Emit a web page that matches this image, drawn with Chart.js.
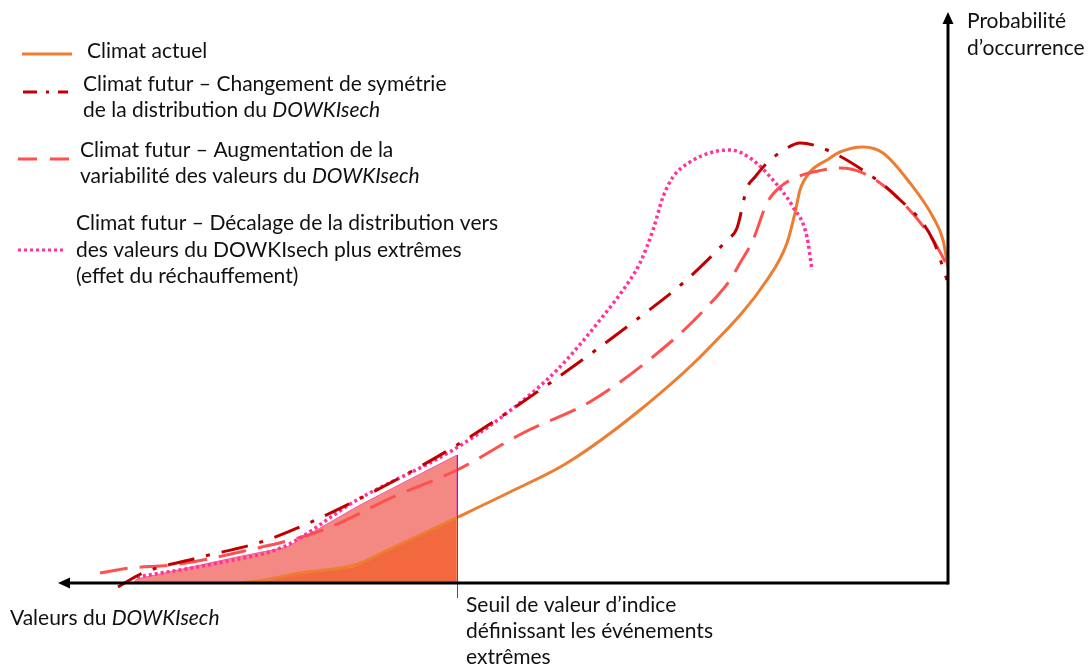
<!DOCTYPE html>
<html><head><meta charset="utf-8">
<script src="https://cdn.jsdelivr.net/npm/chart.js@4/dist/chart.umd.min.js"></script>
<style>html,body{margin:0;padding:0;background:#fff;overflow:hidden}canvas{display:block}</style>
</head><body>
<canvas id="c" width="1089" height="665"></canvas>
<script>
// Climat actuel (solid orange)
const actuelX = [19.2,21.7,25.2,30.7,34.2,37.2,41.0,46.2,51.9,59.2,65.9,71.9,73.9,74.7,75.2,76.2,77.9,79.2,81.5,83.5,86.2,88.5,89.5,90.0];
const actuelY = [0,0.3,1.0,1.8,3.4,4.8,6.6,9.1,12.0,17.3,23.3,30.3,34.0,37.0,39.3,41.1,42.3,43.1,43.6,43.0,40.0,36.6,34.3,31.6];
// Climat futur – changement de symétrie (dash-dot dark red)
const symX = [7.0,9.5,14.9,21.9,30.9,40.9,50.2,59.2,63.5,67.9,68.9,69.9,70.7,71.9,73.9,75.2,77.9,81.9,84.9,88.5,89.9];
const symY = [-0.4,1.0,2.5,4.3,8.3,13.8,20.0,26.6,30.0,34.3,35.5,39.5,40.6,42.0,43.5,44.0,43.3,41.0,38.6,34.3,30.3];
// Climat futur – augmentation de la variabilité (dashed light red)
const varX = [5.2,8.2,12.5,19.2,27.5,34.5,40.9,47.5,54.5,62.5,65.9,68.2,69.2,70.5,71.9,73.2,74.9,76.5,79.2,81.5,84.9,88.5,90.0];
const varY = [1.0,1.5,1.8,3.1,5.3,8.6,11.3,15.0,18.3,24.3,27.6,30.3,32.0,34.3,38.0,39.6,40.6,41.1,41.5,41.0,38.6,34.3,31.6];
// Climat futur – décalage de la distribution (dotted pink)
const shiftX = [8.9,17.5,23.5,30.9,40.5,45.9,50.9,55.2,58.2,59.2,60.5,61.5,62.5,64.2,66.5,68.2,70.2,72.5,74.5,75.9,76.4];
const shiftY = [0.6,2.1,3.6,8.3,13.3,17.0,21.3,26.3,30.3,32.0,35.3,38.6,40.6,42.1,43.1,43.3,42.5,40.3,37.6,34.6,31.3];
// Shaded extreme-event areas (beyond threshold)
const fillShiftX = [8.5,8.9,18.9,23.9,31.2,40.9,40.9];
const fillShiftY = [0,0.4,2.6,3.6,7.8,12.8,0];
const fillActuelX = [20.2,24.5,30.5,34.5,40.9,40.9];
const fillActuelY = [0,0.9,1.6,3.6,6.5,0];
const threshold = 40.9;
const xAxisTip = 1.0, xAxisEnd = 90, yAxisTop = 57;

const legendItems = [
  {style:'solid', color:'#ED7D31', lines:[[{t:'Climat actuel'}]]},
  {style:'dashdot', color:'#C00000', lines:[[{t:'Climat futur – Changement de symétrie'}],[{t:'de la distribution du '},{t:'DOWKIsech',i:1}]]},
  {style:'dash', color:'#FF5050', lines:[[{t:'Climat futur – Augmentation de la'}],[{t:'variabilité des valeurs du '},{t:'DOWKIsech',i:1}]]},
  {style:'dot', color:'#FF3399', lines:[[{t:'Climat futur – Décalage de la distribution vers'}],[{t:'des valeurs du DOWKIsech plus extrêmes'}],[{t:'(effet du réchauffement)'}]]}
];
const xAxisLabel = [{t:'Valeurs du '},{t:'DOWKIsech',i:1}];
const yAxisLabel = ['Probabilité','d’occurrence'];
const thresholdLabel = ['Seuil de valeur d’indice','définissant les événements','extrêmes'];

const pts = (xs, ys) => xs.map((v,i)=>({x:v,y:ys[i]}));
const DASH = {solid:[], dashdot:[27,12,4,12], dash:[28,12], dot:[3,3]};
const LEGEND_DASH = {solid:[], dashdot:[14,9,3,9], dash:[19,13], dot:[3,3]};
const FONT = 'Lato';
const FS = 21;

function drawRuns(ctx, runs, x, y, size){
  let cx = x;
  for (const r of runs){
    ctx.font = (r.i ? 'italic ' : '') + size + 'px ' + FONT;
    ctx.fillText(r.t, cx, y);
    cx += ctx.measureText(r.t).width;
  }
}

const overlay = {
  id:'overlay',
  afterDatasetsDraw(chart){
    const {ctx, scales:{x, y}} = chart;
    ctx.save();
    // threshold tick
    const tx = x.getPixelForValue(threshold);
    ctx.strokeStyle = '#555'; ctx.lineWidth = 1;
    ctx.beginPath(); ctx.moveTo(tx + 0.5, y.getPixelForValue(12.8)); ctx.lineTo(tx + 0.5, y.getPixelForValue(-1.5)); ctx.stroke();
    // x axis arrow (pointing left)
    const y0 = y.getPixelForValue(0);
    const xr = x.getPixelForValue(xAxisEnd), xl = x.getPixelForValue(xAxisTip);
    ctx.strokeStyle = '#000'; ctx.fillStyle = '#000'; ctx.lineWidth = 3;
    ctx.beginPath(); ctx.moveTo(xr, y0); ctx.lineTo(xl + 8, y0); ctx.stroke();
    ctx.beginPath(); ctx.moveTo(xl, y0); ctx.lineTo(xl + 12, y0 - 5.5); ctx.lineTo(xl + 12, y0 + 5.5); ctx.closePath(); ctx.fill();
    // y axis arrow (pointing up)
    const yt = y.getPixelForValue(yAxisTop) - 1;
    ctx.beginPath(); ctx.moveTo(xr, y0 + 1.5); ctx.lineTo(xr, yt + 8); ctx.stroke();
    ctx.beginPath(); ctx.moveTo(xr, yt); ctx.lineTo(xr - 5.5, yt + 12); ctx.lineTo(xr + 5.5, yt + 12); ctx.closePath(); ctx.fill();

    // legend
    const samples = [{x1:22,x2:72,y:54},{x1:23,x2:68,y:92},{x1:18,x2:69,y:159},{x1:18,x2:64,y:250}];
    const textPos = [{x:87,y:58,lh:26},{x:83,y:91,lh:26},{x:80,y:157,lh:26},{x:76,y:230,lh:26.5}];
    legendItems.forEach((it, i) => {
      const s = samples[i];
      ctx.strokeStyle = it.color; ctx.lineWidth = 3; ctx.lineCap = 'butt';
      ctx.setLineDash(LEGEND_DASH[it.style]);
      ctx.beginPath(); ctx.moveTo(s.x1, s.y); ctx.lineTo(s.x2, s.y); ctx.stroke();
      ctx.setLineDash([]);
      ctx.fillStyle = '#111'; ctx.textBaseline = 'alphabetic';
      it.lines.forEach((ln, j) => drawRuns(ctx, ln, textPos[i].x, textPos[i].y + j * textPos[i].lh, FS));
    });
    // axis labels
    ctx.fillStyle = '#111';
    drawRuns(ctx, xAxisLabel, 10, 625, FS);
    ctx.font = FS + 'px ' + FONT;
    yAxisLabel.forEach((t, j) => ctx.fillText(t, 967, 28 + j * 27));
    thresholdLabel.forEach((t, j) => ctx.fillText(t, 466, 612 + j * 26));
    ctx.restore();
  }
};

new Chart(document.getElementById('c'), {
  type: 'scatter',
  data: {
    datasets: [
      {label:'fillShift', data: pts(fillShiftX, fillShiftY), showLine:true, tension:0, fill:'origin',
       backgroundColor:'#F48882', borderColor:'#F25AA8', borderWidth:1, order:6},
      {label:'fillActuel', data: pts(fillActuelX, fillActuelY), showLine:true, tension:0, fill:'origin',
       backgroundColor:'#F2683F', borderColor:'#F79A72', borderWidth:1.2, order:5},
      {label:'Climat actuel', data: pts(actuelX, actuelY), showLine:true, cubicInterpolationMode:'monotone',
       borderColor:'#ED7D31', borderWidth:3, fill:false, order:4},
      {label:'Variabilité', data: pts(varX, varY), showLine:true, cubicInterpolationMode:'monotone',
       borderColor:'#FF5050', borderWidth:3, borderDash:DASH.dash, fill:false, order:3, clip:false},
      {label:'Décalage', data: pts(shiftX, shiftY), showLine:true, cubicInterpolationMode:'monotone',
       borderColor:'#FF3399', borderWidth:3.5, borderDash:DASH.dot, fill:false, order:2},
      {label:'Symétrie', data: pts(symX, symY), showLine:true, cubicInterpolationMode:'monotone',
       borderColor:'#C00000', borderWidth:3, borderDash:DASH.dashdot, fill:false, order:1, clip:false}
    ]
  },
  options: {
    responsive:false, animation:false, events:[],
    layout:{padding:{left:48, right:141, top:13, bottom:82}},
    elements:{point:{radius:0, hoverRadius:0}, line:{borderCapStyle:'butt'}},
    scales:{
      x:{type:'linear', min:0, max:90, display:false},
      y:{type:'linear', min:0, max:57, display:false}
    },
    plugins:{legend:{display:false}, tooltip:{enabled:false}}
  },
  plugins:[overlay]
});
</script>
</body></html>
